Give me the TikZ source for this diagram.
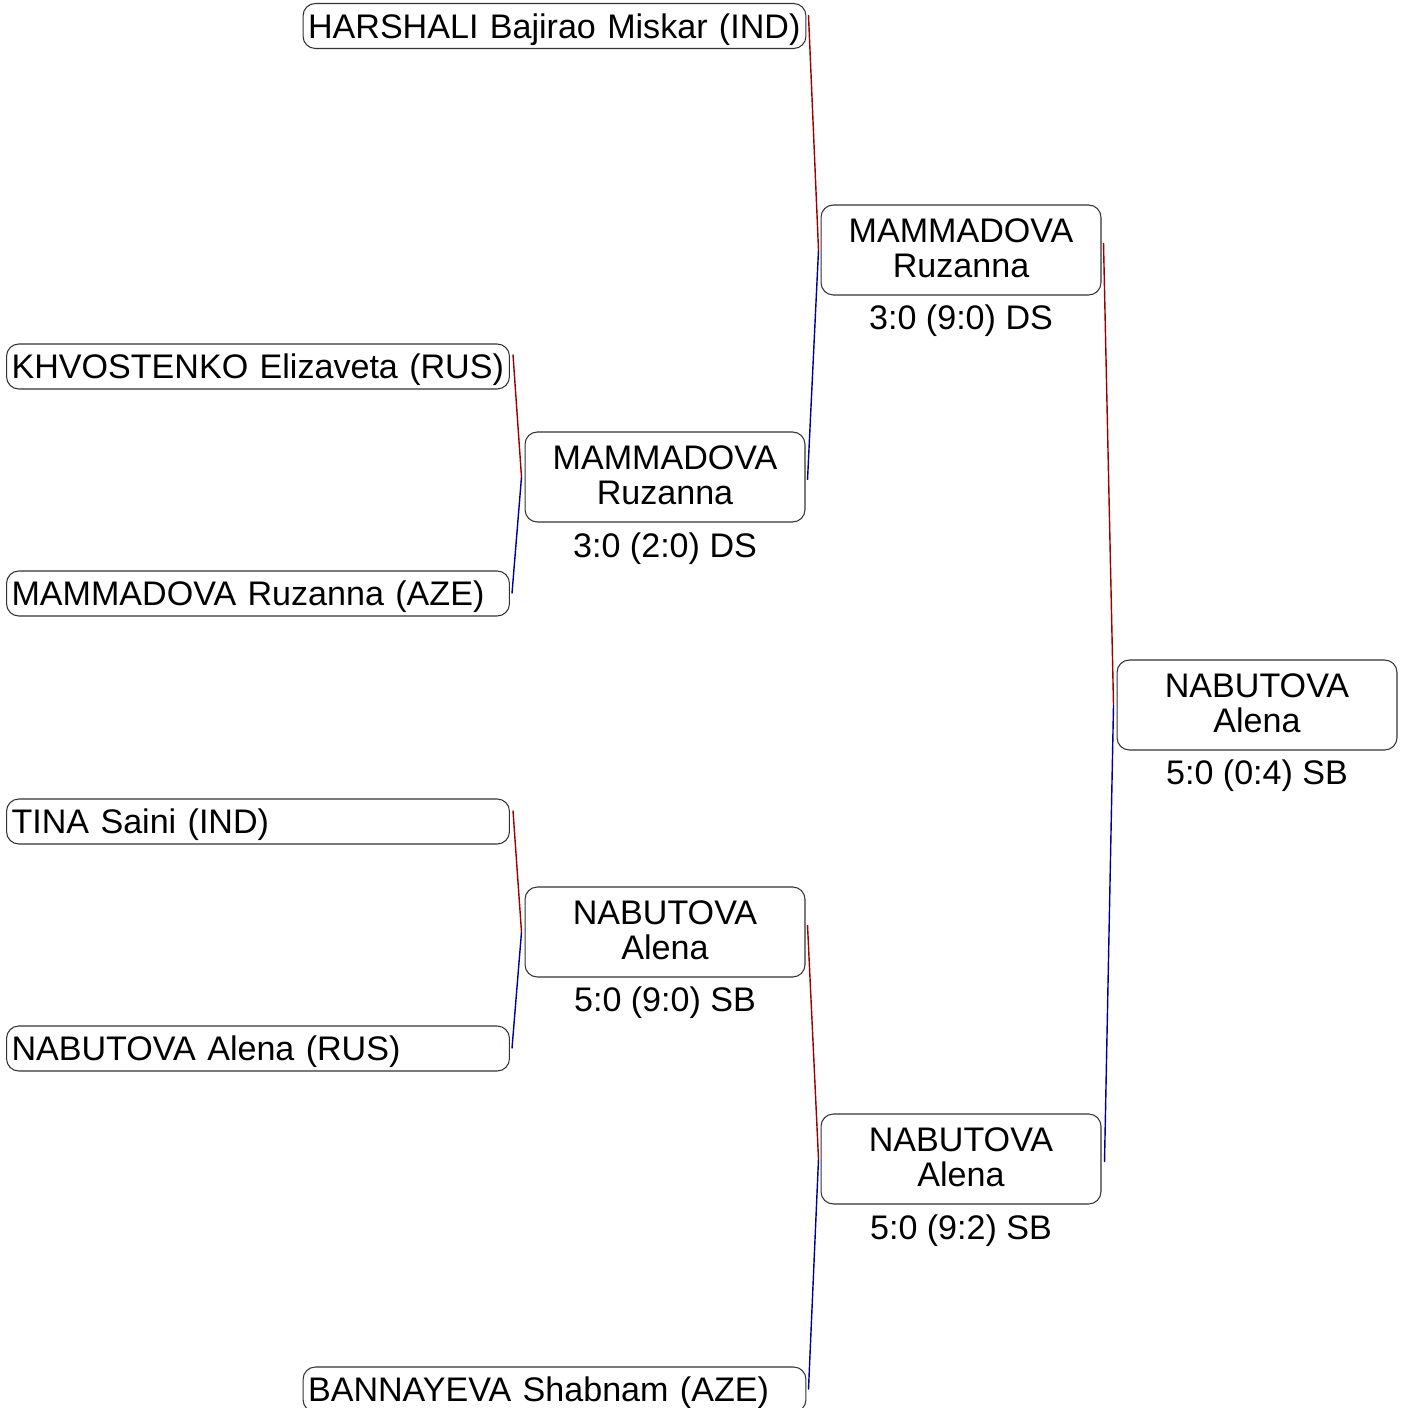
\documentclass[tikz,border=0pt]{standalone}
\usepackage{fontspec}
\setmainfont{Liberation Sans}

\begin{document}
\begin{tikzpicture}[
  x=0.02cm, y=-0.02cm,
  font=\fontsize{19.4}{19.8}\selectfont,
  entry/.style={draw=black!80, line width=0.6pt, rounded corners=7pt, align=left, text width=9.86cm, text depth=0pt, inner xsep=0.1cm, inner ysep=0pt, minimum height=0.9cm},
  winner/.style={draw=black!80, line width=0.6pt, rounded corners=7pt, align=center, text depth=0.08cm, minimum width=5.6cm, minimum height=1.8cm, inner sep=0pt},
  score/.style={align=center, inner sep=0pt},
  redline/.style={draw=red!60!black, line width=0.8pt},
  blueline/.style={draw=blue!60!black, line width=0.8pt}
]
\useasboundingbox (0,0) rectangle (1405,1408);

% first round
\node[entry] (harshali) at (554.5,26) {HARSHALI Bajirao Miskar (IND)};
\node[entry] (khvost) at (258,366.5) {KHVOSTENKO Elizaveta (RUS)};
\node[entry] (mammaze) at (258,593.5) {MAMMADOVA Ruzanna (AZE)};
\node[entry] (tina) at (258,821.5) {TINA Saini (IND)};
\node[entry] (nabrus) at (258,1048.5) {NABUTOVA Alena (RUS)};
\node[entry] (banna) at (554.5,1389.5) {BANNAYEVA Shabnam (AZE)};

% winners
\node[winner] (r1top) at (665,477) {MAMMADOVA\\Ruzanna};
\node[score] (s1top) at (665,549) {3:0 (2:0) DS};
\node[winner] (r1bot) at (665,932) {NABUTOVA\\Alena};
\node[score] (s1bot) at (665,1003) {5:0 (9:0) SB};

\node[winner] (r2top) at (961,250) {MAMMADOVA\\Ruzanna};
\node[score] (s2top) at (961,321) {3:0 (9:0) DS};
\node[winner] (r2bot) at (961,1159) {NABUTOVA\\Alena};
\node[score] (s2bot) at (961,1231) {5:0 (9:2) SB};

\node[winner] (final) at (1257,705) {NABUTOVA\\Alena};
\node[score] (sfinal) at (1257,776) {5:0 (0:4) SB};

% connectors
\draw[redline] ([shift={(3,-12)}]khvost.east) -- ([shift={(-3,0)}]r1top.west);
\draw[blueline] ([shift={(2,0)}]mammaze.east) -- ([shift={(-3,0)}]r1top.west);
\draw[redline] ([shift={(3,-11)}]tina.east) -- ([shift={(-3,0)}]r1bot.west);
\draw[blueline] ([shift={(2,0)}]nabrus.east) -- ([shift={(-3,0)}]r1bot.west);

\draw[redline] ([shift={(2,-11)}]harshali.east) -- ([shift={(-2,0)}]r2top.west);
\draw[blueline] ([shift={(2,3)}]r1top.east) -- ([shift={(-2,0)}]r2top.west);
\draw[redline] ([shift={(2,-7)}]r1bot.east) -- ([shift={(-2,0)}]r2bot.west);
\draw[blueline] ([shift={(2,0)}]banna.east) -- ([shift={(-2,0)}]r2bot.west);

\draw[redline] ([shift={(2,-7)}]r2top.east) -- ([shift={(-3,0)}]final.west);
\draw[blueline] ([shift={(3,3)}]r2bot.east) -- ([shift={(-3,0)}]final.west);

\end{tikzpicture}
\end{document}
